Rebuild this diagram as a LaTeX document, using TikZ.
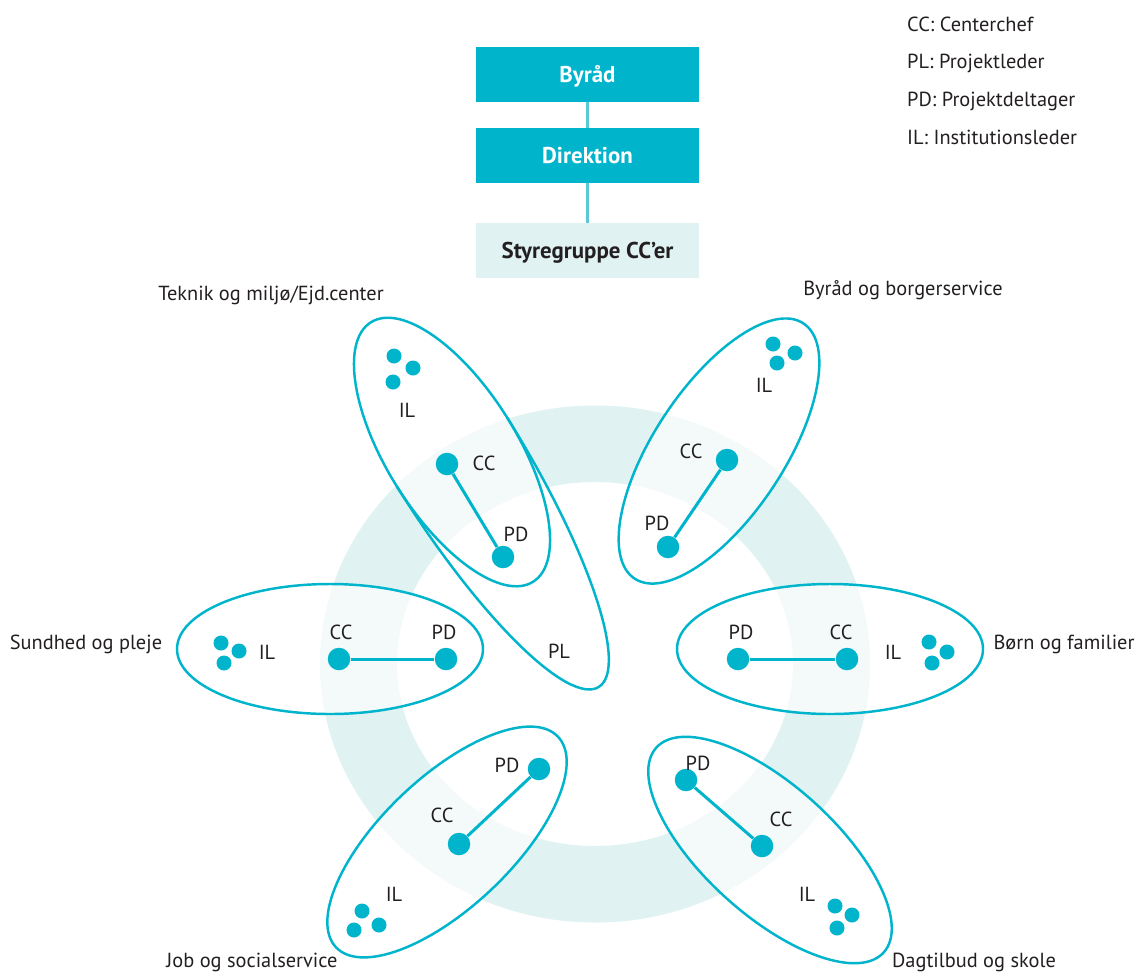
\documentclass[tikz,border=0pt]{standalone}
\usepackage{fontspec}
\setmainfont{PT Sans}
\usepackage{tikz}

\definecolor{petrol}{HTML}{00B4CC}
\definecolor{ringcol}{HTML}{E0F2F2}
\definecolor{ringpale}{HTML}{F4FAFA}
\definecolor{inkgray}{HTML}{231F20}
\definecolor{linkcol}{HTML}{5CC8D7}

\begin{document}
\begin{tikzpicture}
   [x=0.02cm,y=-0.02cm,
    every node/.style={font=\fontsize{11.6}{14}\selectfont,text=inkgray,text height=8.1pt,text depth=0pt},
    bigdot/.style={circle,fill=petrol,inner sep=0pt,minimum size=0.45cm},
    smalldot/.style={circle,fill=petrol,inner sep=0pt,minimum size=0.3cm},
    topbox/.style={rectangle,fill=petrol,text=white,inner sep=0pt,minimum width=4.46cm,minimum height=1.1cm,
                   font=\fontsize{13}{15}\selectfont\bfseries,text height=9.1pt},
    stybox/.style={topbox,fill=ringcol,text=inkgray},
    boxline/.style={draw=linkcol,line width=1.4pt},
    group/.style={draw=petrol,line width=1.4pt},
    link/.style={draw=petrol,line width=1.7pt},
    ringpath/.style={insert path={(595,664) ellipse [x radius=275, y radius=258.5]
                                  (595,664) ellipse [x radius=198, y radius=182]}}]
  \useasboundingbox (0,0) rectangle (1138,974);

  % ring in the back
  \fill[ringcol,even odd rule,ringpath];

  % the six centres, ring shows paler inside them
  \foreach \cx/\cy/\ang in {452/452/-58, 719/451/56.5, 330/649/0, 830/649/0, 447/842/43.5, 770/850/-42}
  {
    \begin{scope}
      \clip[rotate around={\ang:(\cx,\cy)}] (\cx,\cy) ellipse [x radius=153, y radius=65];
      \fill[white] (0,0) rectangle (1138,974);
      \fill[ringpale,even odd rule,ringpath];
    \end{scope}
  }
  \begin{scope}
    \clip[shift={(452,452)},rotate=-58] (0,-65) arc [start angle=-90, end angle=90, x radius=277, y radius=65] -- cycle;
    \fill[white] (0,0) rectangle (1138,974);
    \fill[ringpale,even odd rule,ringpath];
  \end{scope}

  \foreach \cx/\cy/\ang in {452/452/-58, 719/451/56.5, 330/649/0, 830/649/0, 447/842/43.5, 770/850/-42}
    \draw[group,rotate around={\ang:(\cx,\cy)}] (\cx,\cy) ellipse [x radius=153, y radius=65];
  \draw[group,shift={(452,452)},rotate=-58] (0,-65) arc [start angle=-90, end angle=90, x radius=277, y radius=65];

  % top of the organisation
  \node[topbox] (byraad) at (587.5,74.5) {Byråd};
  \node[topbox] (direktion) at (587.5,155.5) {Direktion};
  \node[stybox] (styre) at (587.5,250.5) {Styregruppe CC’er};
  \draw[boxline] (byraad) -- (direktion);
  \draw[boxline] (direktion) -- (styre);

  % legend
  \node[anchor=west] (lgCC) at (901,24) {CC: Centerchef};
  \node[anchor=west] (lgPL) at (901,61) {PL: Projektleder};
  \node[anchor=west] (lgPD) at (901,99) {PD: Projektdeltager};
  \node[anchor=west] (lgIL) at (901,137) {IL: Institutionsleder};

  % Teknik og miljø
  \node (tekname) at (271,293) {Teknik og miljø/Ejd.center};
  \node[smalldot] (tekIL1) at (394,356) {};
  \node[smalldot] (tekIL2) at (413,368) {};
  \node[smalldot] (tekIL3) at (393,382) {};
  \node (tekILtxt) at (407,410) {IL};
  \node[bigdot] (tekCC) at (447,464) {};
  \node (tekCCtxt) at (484,463) {CC};
  \node[bigdot] (tekPD) at (503,557) {};
  \node (tekPDtxt) at (516,534) {PD};
  \node (pltxt) at (559,651) {PL};
  \draw[link] (tekCC) -- (tekPD);

  % Byråd og borgerservice
  \node (bbname) at (903,288) {Byråd og borgerservice};
  \node[smalldot] (bbIL1) at (773,344) {};
  \node[smalldot] (bbIL2) at (795,353) {};
  \node[smalldot] (bbIL3) at (777,363) {};
  \node (bbILtxt) at (764,385) {IL};
  \node[bigdot] (bbCC) at (727,460) {};
  \node (bbCCtxt) at (691,451) {CC};
  \node[bigdot] (bbPD) at (668,547) {};
  \node (bbPDtxt) at (657,523) {PD};
  \draw[link] (bbCC) -- (bbPD);

  % Sundhed og pleje
  \node (sunname) at (86,642) {Sundhed og pleje};
  \node[smalldot] (sunIL1) at (221,643) {};
  \node[smalldot] (sunIL2) at (239,651) {};
  \node[smalldot] (sunIL3) at (224,663) {};
  \node (sunILtxt) at (267,652) {IL};
  \node[bigdot] (sunCC) at (339,659) {};
  \node (sunCCtxt) at (341,632) {CC};
  \node[bigdot] (sunPD) at (446,659) {};
  \node (sunPDtxt) at (444,632) {PD};
  \draw[link] (sunCC) -- (sunPD);

  % Børn og familier
  \node (bfname) at (1064,642) {Børn og familier};
  \node[bigdot] (bfPD) at (738,659) {};
  \node (bfPDtxt) at (741,632) {PD};
  \node[bigdot] (bfCC) at (847,659) {};
  \node (bfCCtxt) at (841,632) {CC};
  \node (bfILtxt) at (893,652) {IL};
  \node[smalldot] (bfIL1) at (929,642) {};
  \node[smalldot] (bfIL2) at (947,652) {};
  \node[smalldot] (bfIL3) at (932,663) {};
  \draw[link] (bfPD) -- (bfCC);

  % Job og socialservice
  \node (jobname) at (252,960) {Job og socialservice};
  \node[bigdot] (jobPD) at (539,769) {};
  \node (jobPDtxt) at (507,765) {PD};
  \node[bigdot] (jobCC) at (459,844) {};
  \node (jobCCtxt) at (442,815) {CC};
  \node (jobILtxt) at (394,894) {IL};
  \node[smalldot] (jobIL1) at (362,911) {};
  \node[smalldot] (jobIL2) at (379,925) {};
  \node[smalldot] (jobIL3) at (354,930) {};
  \draw[link] (jobCC) -- (jobPD);

  % Dagtilbud og skole
  \node (dagname) at (974,960) {Dagtilbud og skole};
  \node[bigdot] (dagPD) at (686,780) {};
  \node (dagPDtxt) at (698,763) {PD};
  \node[bigdot] (dagCC) at (762,846) {};
  \node (dagCCtxt) at (781,819) {CC};
  \node (dagILtxt) at (807,894) {IL};
  \node[smalldot] (dagIL1) at (835,906) {};
  \node[smalldot] (dagIL2) at (852,915) {};
  \node[smalldot] (dagIL3) at (837,928) {};
  \draw[link] (dagPD) -- (dagCC);
\end{tikzpicture}
\end{document}
